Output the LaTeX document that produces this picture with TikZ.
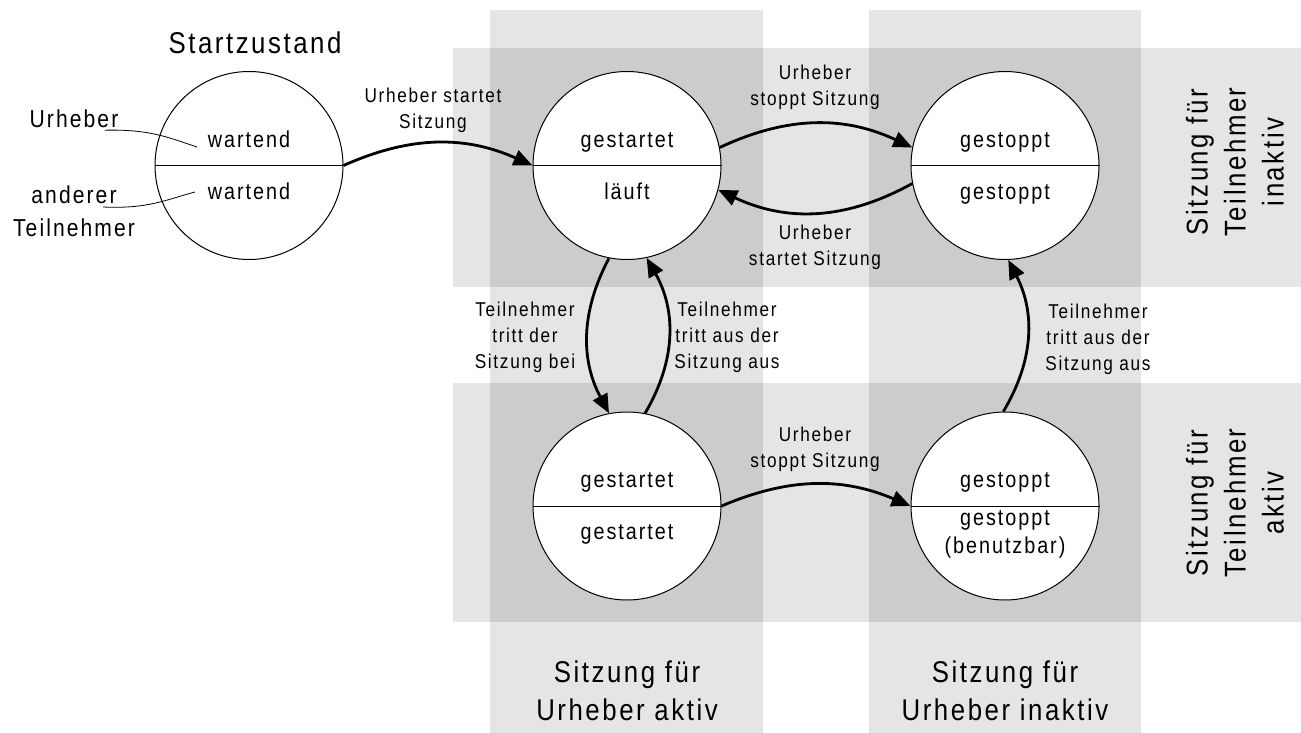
\documentclass[tikz,border=0pt]{standalone}
\usepackage{fontspec}
\setmainfont{Liberation Sans}[LetterSpace=8.5, FakeStretch=0.86]
\usepackage{tikz}
\usetikzlibrary{arrows.meta,positioning}
\definecolor{bandgray}{gray}{0.9}
\definecolor{overlapgray}{gray}{0.8}
\tikzstyle{state} = [draw, circle, fill=white, line width=1pt, minimum size=188pt, inner sep=0pt]
\tikzstyle{band} = [fill=bandgray]
\tikzstyle{overlap} = [fill=overlapgray]
\tikzstyle{statetext} = [font=\fontsize{23}{28}\selectfont, inner sep=0pt]
\tikzstyle{translabel} = [font=\fontsize{20}{26}\selectfont, inner sep=0pt]
\tikzstyle{biglabel} = [font=\fontsize{30}{38}\selectfont, inner sep=0pt]
\tikzstyle{notelabel} = [font=\fontsize{24.5}{33}\selectfont, inner sep=0pt]
\tikzset{
  line/.style ={draw, line width=2.8pt, ->, shorten >=0pt}
}

\begin{document}
\begin{tikzpicture}[x=1pt, y=-1pt, >={Triangle[length=19pt,width=16pt]}, every node/.style={align=center}]
  \useasboundingbox (0,0) rectangle (1301,733);

  % bands
  \fill[band] (490,10) rectangle (763,733);
  \fill[band] (869,10) rectangle (1141,733);
  \fill[band] (453,48) rectangle (1301,287);
  \fill[band] (453,383) rectangle (1301,622);
  \fill[overlap] (490,48) rectangle (763,287);
  \fill[overlap] (869,48) rectangle (1141,287);
  \fill[overlap] (490,383) rectangle (763,622);
  \fill[overlap] (869,383) rectangle (1141,622);

  % states
  \node[state] (start) at (249,165.5) {};
  \node[state] (run) at (627,165.5) {};
  \node[state] (stop) at (1005,165.5) {};
  \node[state] (act) at (627,506) {};
  \node[state] (usable) at (1005,506) {};
  \foreach \s in {start,run,stop,act,usable}
    \draw[line width=1pt] (\s.west) -- (\s.east);

  \node[statetext, anchor=base] (startU) at (249,147) {wartend};
  \node[statetext, anchor=base] (startL) at (249,199) {wartend};
  \node[statetext, anchor=base] (runU) at (627,147) {gestartet};
  \node[statetext, anchor=base] (runL) at (627,199) {läuft};
  \node[statetext, anchor=base] (stopU) at (1005,147) {gestoppt};
  \node[statetext, anchor=base] (stopL) at (1005,199) {gestoppt};
  \node[statetext, anchor=base] (actU) at (627,487) {gestartet};
  \node[statetext, anchor=base] (actL) at (627,539) {gestartet};
  \node[statetext, anchor=base] (usableU) at (1005,487) {gestoppt};
  \node[statetext, anchor=base] (usableL) at (1005,553) {gestoppt\\(benutzbar)};

  % labels
  \node[biglabel] (title) at (255,43) {Startzustand};
  \node[notelabel] (urh) at (74,119) {Urheber};
  \node[notelabel] (other) at (74,211) {anderer\\Teilnehmer};
  \coordinate (urhEnd) at (197,147);
  \coordinate (otherEnd) at (195,192);
  \draw[line width=0.8pt] ([xshift=-14pt,yshift=-2pt]urh.south east) .. controls +(45,-1) and +(-30,-10) .. (urhEnd);
  \draw[line width=0.8pt] ([xshift=-32pt,yshift=4pt]other.east) .. controls +(45,2) and +(-30,8) .. (otherEnd);

  \node[biglabel] (colA) at (627,691) {Sitzung für\\Urheber aktiv};
  \node[biglabel] (colB) at (1005,691) {Sitzung für\\Urheber inaktiv};
  \node[biglabel, rotate=90] (rowA) at (1235,162) {Sitzung für\\Teilnehmer\\inaktiv};
  \node[biglabel, rotate=90] (rowB) at (1235,503) {Sitzung für\\Teilnehmer\\aktiv};

  \node[translabel] (lStart) at (433,110) {Urheber startet\\Sitzung};
  \node[translabel] (lStop) at (815,87) {Urheber\\stoppt Sitzung};
  \node[translabel] (lRestart) at (815,247) {Urheber\\startet Sitzung};
  \node[translabel] (lJoin) at (525,337) {Teilnehmer\\tritt der\\Sitzung bei};
  \node[translabel] (lLeave) at (727,337) {Teilnehmer\\tritt aus der\\Sitzung aus};
  \node[translabel] (lStop2) at (815,449) {Urheber\\stoppt Sitzung};
  \node[translabel] (lLeave2) at (1098,339) {Teilnehmer\\tritt aus der\\Sitzung aus};

  \begin{scope}[every path/.style=line]
    \path (start.east) to[bend left=24] (run.west);
    \path (run.11) to[bend left=25] (stop.169);
    \path (stop.191) to[bend left=27] (run.-15);
    \path (run.-101) to[bend right=28] (act.101);
    \path (act.79) to[bend right=30] (run.-78);
    \path (act.east) to[bend left=23] (usable.west);
    \path (usable.91) to[bend right=29] (stop.-88);
  \end{scope}
\end{tikzpicture}
\end{document}
